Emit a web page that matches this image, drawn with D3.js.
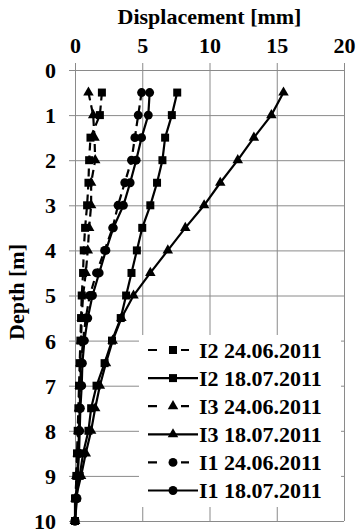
<!DOCTYPE html>
<html><head><meta charset="utf-8">
<script src="https://cdn.jsdelivr.net/npm/d3@7"></script>
<style>
body{margin:0;background:#fff}
text{font-family:"Liberation Serif","Times New Roman",serif;font-weight:bold;fill:#000}
</style>
</head><body>
<svg id="c" width="356" height="532"></svg>
<script>
// ---- data ----
const depths = [0.5,1,1.5,2,2.5,3,3.5,4,4.5,5,5.5,6,6.5,7,7.5,8,8.5,9,9.5,10];
const xTicks = [0,5,10,15,20];
const yTicks = [0,1,2,3,4,5,6,7,8,9,10];
const seriesNames = ["I2 24.06.2011","I2 18.07.2011","I3 24.06.2011","I3 18.07.2011","I1 24.06.2011","I1 18.07.2011"];
const i2_240611 = [2.0,1.85,1.15,1.05,1.0,0.9,0.75,0.65,0.6,0.5,0.45,0.4,0.35,0.3,0.25,0.2,0.15,0.1,0.05,0.0];
const i2_180711 = [7.6,7.2,6.7,6.5,6.1,5.6,5.0,4.6,4.2,3.8,3.4,2.75,2.2,1.6,1.2,1.0,0.6,0.35,0.0,0.0];
const i3_240611 = [1.0,1.35,1.45,1.5,1.2,1.2,1.05,0.95,0.8,0.6,0.5,0.45,0.4,0.35,0.3,0.25,0.2,0.1,0.05,0.0];
const i3_180711 = [15.5,14.6,13.3,12.1,10.8,9.6,8.2,6.9,5.6,4.35,3.45,2.8,2.3,1.85,1.5,1.2,0.8,0.45,0.05,0.0];
const i1_240611 = [4.95,4.7,4.45,4.2,3.7,3.2,2.8,2.2,1.6,1.1,0.8,0.6,0.45,0.4,0.35,0.3,0.25,0.15,0.1,0.0];
const i1_180711 = [5.55,5.45,4.95,4.55,4.1,3.6,2.85,2.3,1.8,1.3,0.95,0.7,0.55,0.5,0.4,0.35,0.3,0.2,0.15,0.0];

const seriesValues = [i2_240611,i2_180711,i3_240611,i3_180711,i1_240611,i1_180711];
const seriesDashed = [true,false,true,false,true,false];
const seriesSymbol = [d3.symbolSquare,d3.symbolSquare,d3.symbolTriangle,d3.symbolTriangle,d3.symbolCircle,d3.symbolCircle];
const symbolSize = {square:64, triangle:48, circle:62};

// ---- layout ----
const svg = d3.select("#c");
const L=75, R=344, T=70, B=521;
const x = d3.scaleLinear().domain([0,20]).range([L,R]);
const y = d3.scaleLinear().domain([0,10]).range([T,B]);
const gridCol = "#8a8a8a";

// gridlines
const g = svg.append("g");
g.selectAll("line.h").data(yTicks).join("line")
  .attr("x1",L).attr("x2",R).attr("y1",d=>y(d)+0.5).attr("y2",d=>y(d)+0.5)
  .attr("stroke",gridCol).attr("stroke-width",1);
g.selectAll("line.v").data(xTicks).join("line")
  .attr("y1",T).attr("y2",B).attr("x1",d=>x(d)+0.5).attr("x2",d=>x(d)+0.5)
  .attr("stroke",gridCol).attr("stroke-width",1);

// axes
const xAxis = d3.axisTop(x).tickValues(xTicks).tickSize(7).tickPadding(10);
const yAxis = d3.axisLeft(y).tickValues(yTicks).tickSize(6).tickPadding(13);
const gx = svg.append("g").attr("transform",`translate(0,${T})`).call(xAxis);
const gy = svg.append("g").attr("transform",`translate(${L},0)`).call(yAxis);
[gx,gy].forEach(a=>{
  a.select(".domain").attr("stroke",gridCol);
  a.selectAll(".tick line").attr("stroke",gridCol);
  a.selectAll(".tick text").attr("font-size",22).attr("font-family",'"Liberation Serif","Times New Roman",serif').attr("font-weight","bold").attr("fill","#000");
});
gy.selectAll(".tick text").attr("dy","0.34em");

// right border
svg.append("line").attr("x1",R+0.5).attr("x2",R+0.5).attr("y1",T).attr("y2",B).attr("stroke",gridCol);
svg.append("line").attr("x1",L).attr("x2",R).attr("y1",B+0.5).attr("y2",B+0.5).attr("stroke",gridCol);

// titles
svg.append("text").attr("x",(L+R)/2).attr("y",24).attr("text-anchor","middle").attr("font-size",22).text("Displacement [mm]");
svg.append("text").attr("transform",`translate(24,${292}) rotate(-90)`).attr("text-anchor","middle").attr("font-size",22).text("Depth [m]");

// series
const line = d3.line().x(d=>x(d[1])).y(d=>y(d[0]));
seriesValues.forEach((vals,i)=>{
  const pts = depths.map((d,j)=>[d,vals[j]]);
  svg.append("path").datum(pts).attr("d",line).attr("fill","none").attr("stroke","#000")
    .attr("stroke-width",2.2).attr("stroke-dasharray",seriesDashed[i]?"8,5":null);
  const sz = seriesSymbol[i]===d3.symbolSquare?symbolSize.square:(seriesSymbol[i]===d3.symbolTriangle?symbolSize.triangle:symbolSize.circle);
  const sym = d3.symbol().type(seriesSymbol[i]).size(sz);
  svg.append("g").selectAll("path").data(pts).join("path")
    .attr("d",sym).attr("transform",d=>`translate(${x(d[1])},${y(d[0])})`).attr("fill","#000");
});

// legend
const lg = svg.append("g");
lg.append("rect").attr("x",139).attr("y",335).attr("width",202).attr("height",172).attr("fill","#fff");
seriesNames.forEach((name,i)=>{
  const cy = 350 + i*28.1;
  lg.append("line").attr("x1",148).attr("x2",seriesDashed[i]?189:198).attr("y1",cy).attr("y2",cy)
    .attr("stroke","#000").attr("stroke-width",2.2).attr("stroke-dasharray",seriesDashed[i]?"9,24":null);
  const sz = seriesSymbol[i]===d3.symbolSquare?symbolSize.square:(seriesSymbol[i]===d3.symbolTriangle?symbolSize.triangle:symbolSize.circle);
  lg.append("path").attr("d",d3.symbol().type(seriesSymbol[i]).size(sz)).attr("transform",`translate(173,${cy})`).attr("fill","#000");
  lg.append("text").attr("x",199).attr("y",cy+7.5).attr("font-size",22).text(name);
});
</script>
</body></html>
